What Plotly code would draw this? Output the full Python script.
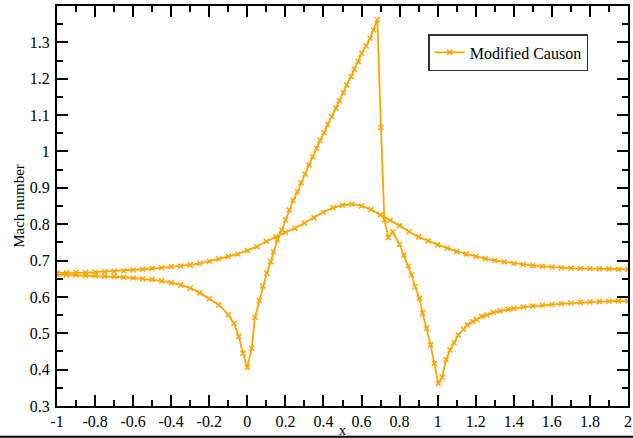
import plotly.graph_objects as go

# Curve A (smooth branch), x ascending
xa = [-1.0, -0.95, -0.9, -0.85, -0.8, -0.75, -0.7, -0.65, -0.6, -0.55, -0.5, -0.45, -0.4, -0.35, -0.3,
      -0.25, -0.2, -0.15, -0.1, -0.05, 0.0, 0.05, 0.1, 0.15, 0.2, 0.25, 0.3, 0.35, 0.4, 0.45, 0.5, 0.55,
      0.6, 0.65, 0.7, 0.75, 0.8, 0.85, 0.9, 0.95, 1.0, 1.05, 1.1, 1.15, 1.2, 1.25, 1.3, 1.35, 1.4, 1.45,
      1.5, 1.55, 1.6, 1.65, 1.7, 1.75, 1.8, 1.85, 1.9, 1.95, 2.0]
ya = [0.666, 0.666, 0.667, 0.667, 0.668, 0.669, 0.670, 0.672, 0.674, 0.676, 0.678, 0.680, 0.683, 0.685, 0.688,
      0.692, 0.698, 0.704, 0.711, 0.718, 0.727, 0.738, 0.753, 0.765, 0.777, 0.789, 0.803, 0.818, 0.833, 0.845, 0.852, 0.855,
      0.850, 0.840, 0.826, 0.811, 0.796, 0.779, 0.765, 0.754, 0.743, 0.734, 0.725, 0.718, 0.711, 0.705, 0.700, 0.696, 0.692, 0.689,
      0.686, 0.684, 0.682, 0.680, 0.679, 0.678, 0.678, 0.677, 0.677, 0.676, 0.676]

# Curve B (shocked branch), x ascending
xb = [-1.0, -0.95, -0.9, -0.85, -0.8, -0.75, -0.7, -0.65, -0.6, -0.55, -0.5, -0.45, -0.4, -0.35, -0.3,
      -0.25, -0.2, -0.15, -0.1, -0.07, -0.045, -0.023, 0.0, 0.023, 0.040, 0.063, 0.081, 0.102, 0.123, 0.137,
      0.158, 0.181, 0.202, 0.220, 0.241, 0.263, 0.282, 0.303, 0.324, 0.343, 0.364, 0.382, 0.403, 0.422,
      0.443, 0.466, 0.483, 0.504, 0.522, 0.545, 0.562, 0.583, 0.601, 0.624, 0.645, 0.662, 0.683, 0.702,
      0.720, 0.741, 0.764, 0.800, 0.823, 0.846, 0.863, 0.881, 0.904, 0.921, 0.942, 0.963, 0.982, 1.003,
      1.024, 1.044, 1.065, 1.086, 1.108, 1.135, 1.156, 1.184, 1.205, 1.231, 1.258, 1.292, 1.328, 1.371,
      1.4, 1.45, 1.5, 1.55, 1.6, 1.65, 1.7, 1.75, 1.8, 1.85, 1.9, 1.95, 2.0]
yb = [0.661, 0.660, 0.660, 0.659, 0.658, 0.657, 0.656, 0.654, 0.652, 0.650, 0.648, 0.644, 0.639, 0.633, 0.624,
      0.611, 0.595, 0.578, 0.551, 0.527, 0.491, 0.445, 0.406, 0.459, 0.544, 0.590, 0.630, 0.665, 0.697, 0.724,
      0.757, 0.784, 0.812, 0.839, 0.865, 0.889, 0.914, 0.938, 0.963, 0.986, 1.009, 1.030, 1.052, 1.075,
      1.096, 1.119, 1.140, 1.162, 1.183, 1.206, 1.226, 1.247, 1.270, 1.290, 1.311, 1.334, 1.362, 1.066,
      0.812, 0.763, 0.779, 0.744, 0.715, 0.685, 0.660, 0.628, 0.596, 0.555, 0.514, 0.468, 0.417, 0.362,
      0.379, 0.427, 0.454, 0.474, 0.495, 0.511, 0.523, 0.532, 0.538, 0.546, 0.550, 0.557, 0.561, 0.566,
      0.568, 0.572, 0.575, 0.577, 0.579, 0.581, 0.583, 0.585, 0.586, 0.587, 0.588, 0.589, 0.589]

series_name = "Modified Causon"
x_ticks = [-1, -0.8, -0.6, -0.4, -0.2, 0, 0.2, 0.4, 0.6, 0.8, 1, 1.2, 1.4, 1.6, 1.8, 2]
x_labels = ["-1", "-0.8", "-0.6", "-0.4", "-0.2", "0", "0.2", "0.4", "0.6", "0.8", "1", "1.2", "1.4", "1.6", "1.8", "2"]
y_ticks = [0.3, 0.4, 0.5, 0.6, 0.7, 0.8, 0.9, 1.0, 1.1, 1.2, 1.3]
y_labels = ["0.3", "0.4", "0.5", "0.6", "0.7", "0.8", "0.9", "1", "1.1", "1.2", "1.3"]

# single series: smooth branch from right to left, then shocked branch left to right
xs = list(reversed(xa)) + xb
ys = list(reversed(ya)) + yb

color = "#FFA500"
font = "Liberation Serif, Times New Roman, serif"

fig = go.Figure()
fig.add_trace(go.Scatter(
    x=xs, y=ys, mode="lines+markers", name=series_name,
    line=dict(color=color, width=1.8),
    marker=dict(symbol="x-thin", size=5, line=dict(color=color, width=1.5), color=color),
))

axis_common = dict(
    showline=True, linecolor="black", linewidth=2, mirror="ticks",
    ticks="inside", ticklen=11, tickwidth=1.5, tickcolor="black",
    showgrid=False, zeroline=False, automargin=False,
    tickfont=dict(family=font, size=16, color="black"),
)

fig.update_xaxes(
    range=[-1, 2], tickmode="array", tickvals=x_ticks, ticktext=x_labels,
    minor=dict(ticks="inside", ticklen=6, tickwidth=1.5, tickcolor="black", tick0=-1, dtick=0.1, showgrid=False),
    title=dict(text="x", font=dict(family=font, size=15, color="black"), standoff=0),
    ticklabelstandoff=0,
    **axis_common,
)
fig.update_yaxes(
    range=[0.3, 1.3999], tickmode="array", tickvals=y_ticks, ticktext=y_labels,
    minor=dict(ticks="inside", ticklen=6, tickwidth=1.5, tickcolor="black", tick0=0.3, dtick=0.05, showgrid=False),
    title=dict(text="Mach number", font=dict(family=font, size=15, color="black"), standoff=2),
    ticklabelstandoff=2,
    **axis_common,
)

fig.update_layout(
    width=633, height=438,
    margin=dict(l=57, r=5, t=6, b=32),
    paper_bgcolor="white", plot_bgcolor="white",
    showlegend=True,
    legend=dict(
        x=0.65, y=0.93, xanchor="left", yanchor="top",
        bgcolor="white", bordercolor="#333333", borderwidth=1.5,
        font=dict(family=font, size=16, color="black"),
        itemwidth=30, tracegroupgap=0,
    ),
    font=dict(family=font, size=15, color="black"),
)

# bottom rule line of the page
fig.add_shape(type="line", xref="paper", yref="paper", x0=-0.2, x1=1.02, y0=-0.077, y1=-0.077,
              line=dict(color="black", width=2), layer="above")

fig.write_html("out.html")
